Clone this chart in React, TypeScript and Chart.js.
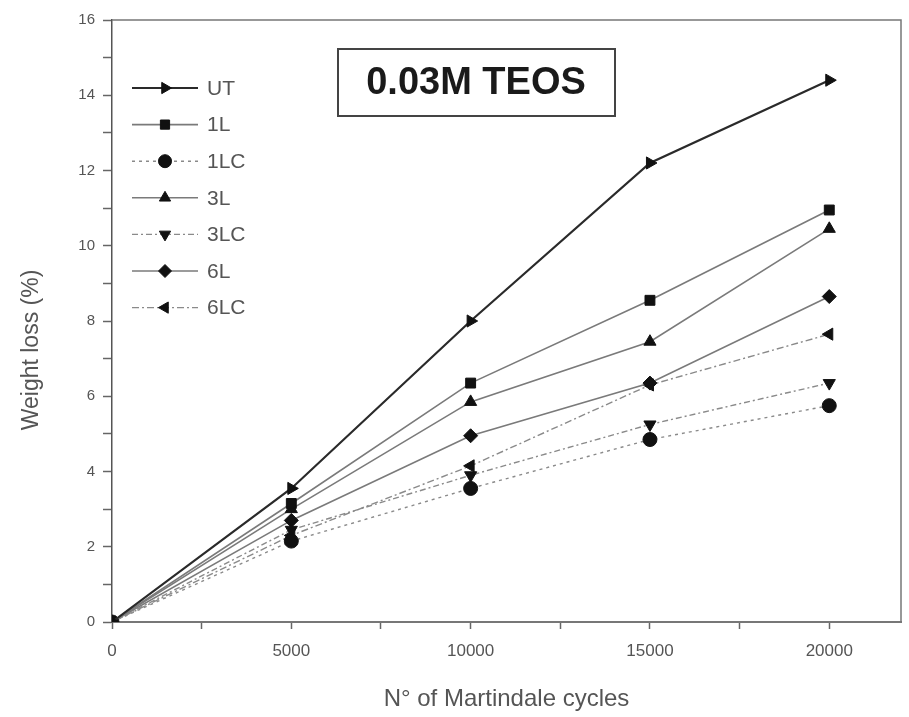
import React, { useEffect, useRef } from "react";
import { Chart, registerables } from "chart.js";
import { drawPoint } from "chart.js/helpers";

Chart.register(...registerables);

const cycles = [0, 5000, 10000, 15000, 20000];
const seriesLabels = ["UT", "1L", "1LC", "3L", "3LC", "6L", "6LC"];
const utValues = [0, 3.55, 8.0, 12.2, 14.4];
const l1Values = [0, 3.15, 6.35, 8.55, 10.95];
const lc1Values = [0, 2.15, 3.55, 4.85, 5.75];
const l3Values = [0, 3.0, 5.85, 7.45, 10.45];
const lc3Values = [0, 2.45, 3.9, 5.25, 6.35];
const l6Values = [0, 2.7, 4.95, 6.35, 8.65];
const lc6Values = [0, 2.3, 4.15, 6.3, 7.65];
const xTickValues = [0, 2500, 5000, 7500, 10000, 12500, 15000, 17500, 20000];
const yTickValues = [0, 1, 2, 3, 4, 5, 6, 7, 8, 9, 10, 11, 12, 13, 14, 15, 16];
const titleText = "0.03M TEOS";
const xTitle = "N° of Martindale cycles";
const yTitle = "Weight loss (%)";

const FONT = '"Liberation Sans", Arial, sans-serif';
const TEXT = "#555";

const seriesValues = [utValues, l1Values, lc1Values, l3Values, lc3Values, l6Values, lc6Values];
const styles = [
  { color: "#2a2a2a", width: 2.2, dash: [], point: "triangle", rot: 90 },
  { color: "#7a7a7a", width: 1.6, dash: [], point: "rect", rot: 0 },
  { color: "#8a8a8a", width: 1.4, dash: [3, 4], point: "circle", rot: 0 },
  { color: "#7a7a7a", width: 1.6, dash: [], point: "triangle", rot: 0 },
  { color: "#8a8a8a", width: 1.4, dash: [6, 3, 2, 3], point: "triangle", rot: 180 },
  { color: "#7a7a7a", width: 1.6, dash: [], point: "rectRot", rot: 0 },
  { color: "#8a8a8a", width: 1.4, dash: [7, 3, 2, 3], point: "triangle", rot: -90 },
];

const frameAndLegend = {
  id: "frameAndLegend",
  afterDraw(chart: any) {
    const { ctx, chartArea } = chart;
    ctx.save();
    // frame top & right
    ctx.strokeStyle = "#777";
    ctx.lineWidth = 1.5;
    ctx.beginPath();
    ctx.moveTo(chartArea.left, chartArea.top);
    ctx.lineTo(chartArea.right, chartArea.top);
    ctx.lineTo(chartArea.right, chartArea.bottom);
    ctx.stroke();

    // y axis title
    ctx.save();
    ctx.translate(32, 350);
    ctx.rotate(-Math.PI / 2);
    ctx.fillStyle = TEXT;
    ctx.font = `23px ${FONT}`;
    ctx.textAlign = "center";
    ctx.textBaseline = "middle";
    ctx.fillText(yTitle, 0, 0);
    ctx.restore();

    // title box
    const bx = chartArea.left + 226;
    const by = chartArea.top + 29;
    ctx.strokeStyle = "#444";
    ctx.lineWidth = 2;
    ctx.strokeRect(bx, by, 277, 67);
    ctx.fillStyle = "#1a1a1a";
    ctx.font = `bold 38px ${FONT}`;
    ctx.textAlign = "center";
    ctx.textBaseline = "middle";
    ctx.fillText(titleText, bx + 138, by + 35);

    // legend
    const lx = chartArea.left + 20;
    const ly = chartArea.top + 68;
    const gap = 36.6;
    chart.data.datasets.forEach((ds: any, i: number) => {
      const y = ly + i * gap;
      ctx.strokeStyle = ds.borderColor;
      ctx.lineWidth = ds.borderWidth;
      ctx.setLineDash(ds.borderDash || []);
      ctx.beginPath();
      ctx.moveTo(lx, y);
      ctx.lineTo(lx + 66, y);
      ctx.stroke();
      ctx.setLineDash([]);
      ctx.fillStyle = "#111";
      ctx.strokeStyle = "#111";
      ctx.lineWidth = 1;
      drawPoint(ctx, { pointStyle: ds.pointStyle, rotation: ds.pointRotation, radius: 6.5, borderWidth: 1 } as any, lx + 33, y);
      ctx.fillStyle = TEXT;
      ctx.font = `21px ${FONT}`;
      ctx.textAlign = "left";
      ctx.textBaseline = "middle";
      ctx.fillText(ds.label, lx + 75, y + 1);
    });
    ctx.restore();
  },
};

export default function App() {
  const ref = useRef<HTMLCanvasElement>(null);
  useEffect(() => {
    document.body.style.margin = "0";
    const canvas = ref.current!;
    const chart = new Chart(canvas, {
      type: "line",
      data: {
        datasets: seriesLabels.map((label, i) => ({
          label,
          data: cycles.map((x, j) => ({ x, y: seriesValues[i][j] })),
          borderColor: styles[i].color,
          borderWidth: styles[i].width,
          borderDash: styles[i].dash,
          pointStyle: styles[i].point as any,
          pointRotation: styles[i].rot,
          pointRadius: 7,
          pointBackgroundColor: "#111",
          pointBorderColor: "#111",
          pointBorderWidth: 1,
          fill: false,
          tension: 0,
        })),
      },
      options: {
        animation: false,
        responsive: false,
        maintainAspectRatio: false,
        layout: { padding: { top: 20, right: 3, left: 0, bottom: 0 } },
        plugins: { legend: { display: false }, tooltip: { enabled: false } },
        scales: {
          x: {
            type: "linear",
            min: 0,
            max: 22000,
            afterFit(s: any) {
              s.height = 95;
            },
            afterBuildTicks(s: any) {
              s.ticks = xTickValues.map((v) => ({ value: v }));
            },
            ticks: {
              autoSkip: false,
              maxRotation: 0,
              padding: 12,
              color: TEXT,
              font: { family: FONT, size: 17 },
              callback: (v: any) => (Number(v) % 5000 === 0 ? String(v) : ""),
            },
            grid: { drawOnChartArea: false, tickLength: 7, color: "#666", tickWidth: 1.5 },
            border: { color: "#777", width: 2 },
            title: {
              display: true,
              text: xTitle,
              color: TEXT,
              font: { family: FONT, size: 24 },
              padding: { top: 3, bottom: 3 },
            },
          },
          y: {
            type: "linear",
            min: 0,
            max: 16,
            afterFit(s: any) {
              s.width = 112;
            },
            afterBuildTicks(s: any) {
              s.ticks = yTickValues.map((v) => ({ value: v }));
            },
            ticks: {
              autoSkip: false,
              padding: 8,
              color: TEXT,
              font: { family: FONT, size: 15 },
              callback: (v: any) => (Number(v) % 2 === 0 ? String(v) : ""),
            },
            grid: { drawOnChartArea: false, tickLength: 9, color: "#666", tickWidth: 1.5 },
            border: { color: "#555", width: 1.5 },
          },
        },
      },
      plugins: [frameAndLegend],
    });
    return () => chart.destroy();
  }, []);
  return <canvas ref={ref} width={909} height={717} style={{ display: "block" }} />;
}
